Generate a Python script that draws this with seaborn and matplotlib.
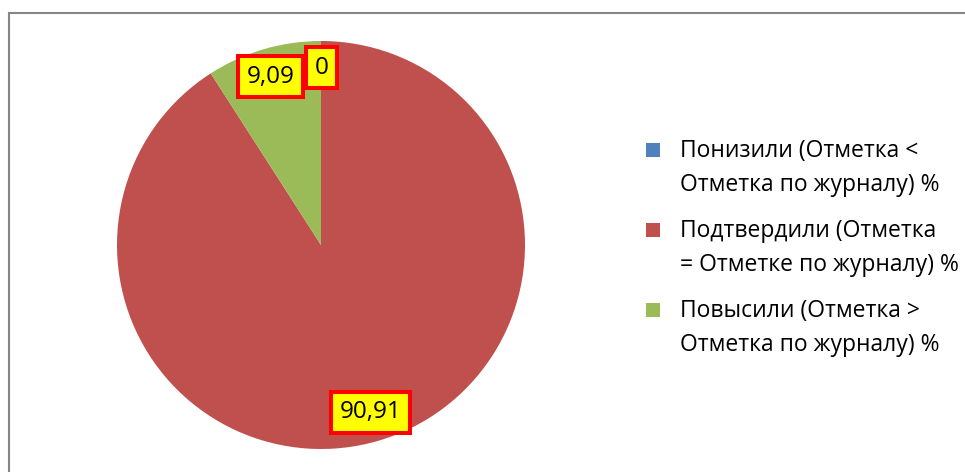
import matplotlib
matplotlib.use("Agg")
import matplotlib.pyplot as plt
import matplotlib.patches as mpatches
import seaborn as sns

# данные диаграммы
categories = ["Понизили (Отметка <\nОтметка по журналу) %",
              "Подтвердили (Отметка\n= Отметке по журналу) %",
              "Повысили (Отметка >\nОтметка по журналу) %"]
values = [0, 90.91, 9.09]
colors = ["#4F81BD", "#C0504D", "#9BBB59"]

sns.set_style("white")
plt.rcParams['font.family'] = ['Open Sans', 'DejaVu Sans']

W, H = 965, 472
fig = plt.figure(figsize=(W / 100, H / 100), dpi=100)
# рамка области диаграммы
fig.patches.append(mpatches.Rectangle((8.5 / W, -0.05), 1.2, (H - 12.5) / H + 0.05,
                                      transform=fig.transFigure, fill=False,
                                      edgecolor="#868686", linewidth=1.5))

ax = fig.add_axes([117 / W, 23 / H, 408 / W, 408 / H])
wedges, _ = ax.pie(values, colors=colors, startangle=90, counterclock=False,
                   radius=1, wedgeprops=dict(linewidth=0))
ax.set_xlim(-1, 1)
ax.set_ylim(-1, 1)
ax.axis("off")

# подписи данных
label_pos = [(0.003, 0.87), (0.243, -0.821), (-0.247, 0.825)]
for v, (x, y) in zip(values, label_pos):
    txt = ("%g" % v).replace(".", ",")
    ax.text(x, y, txt, ha="center", va="center", fontsize=17.5, color="black",
            bbox=dict(boxstyle="square,pad=0.36", facecolor="#FFFF00",
                      edgecolor="#FF0000", linewidth=2.9))

# легенда (маркер по первой строке подписи)
for i, (cat, c) in enumerate(zip(categories, colors)):
    base = 157 + i * 80
    fig.patches.append(mpatches.Rectangle((646 / W, 1 - base / H), 14 / W, 14 / H,
                                          transform=fig.transFigure, facecolor=c,
                                          edgecolor="none"))
    for j, line in enumerate(cat.split("\n")):
        fig.text(680 / W, 1 - (base + j * 34) / H, line, ha="left", va="baseline",
                 fontsize=16.5, color="black")

fig.savefig("out.png", dpi=100)
